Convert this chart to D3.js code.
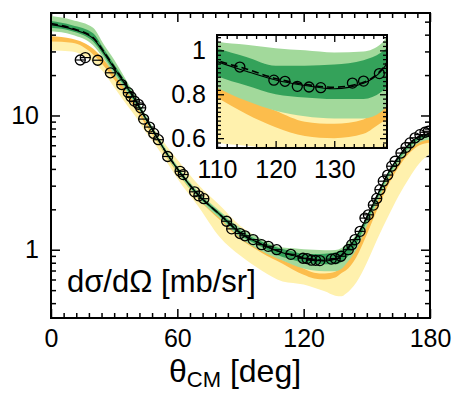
<!DOCTYPE html>
<html>
<head>
<meta charset="utf-8">
<script src="https://cdn.jsdelivr.net/npm/d3@7"></script>
<style>
body { margin: 0; background: #fff; }
svg { font-family: "Liberation Sans", Arial, Helvetica, sans-serif; }
</style>
</head>
<body>
<div id="chart"></div>
<script>
/* theory grid, angles in deg */
const grid   = [0, 10, 20, 25, 30, 35, 40, 45, 50, 55, 60, 70, 80, 90, 100, 110, 115, 120, 125, 130, 135, 138, 140, 145, 150, 155, 160, 165, 170, 175, 180];
const solid  = [47.5, 44, 37.5, 29.5, 22.5, 17.3, 13.0, 9.5, 7.0, 5.2, 4.0, 2.55, 1.84, 1.33, 1.1, 0.95, 0.905, 0.865, 0.84, 0.825, 0.85, 0.905, 0.98, 1.24, 1.75, 2.55, 3.7, 4.9, 6.1, 7.0, 7.3];
const dashed = [48.5, 44.5, 38, 30, 23, 17.6, 13.1, 9.55, 7.05, 5.2, 4.02, 2.56, 1.84, 1.33, 1.1, 0.955, 0.915, 0.872, 0.845, 0.832, 0.855, 0.91, 0.985, 1.24, 1.75, 2.55, 3.7, 4.9, 6.1, 7.0, 7.35];

/* bands: light green, dark green, orange, yellow */
const lgLo = [42.5, 40, 33.3, 26.5, 20.2, 15.8, 12.1, 9.0, 6.65, 4.95, 3.8, 2.4, 1.72, 1.22, 0.98, 0.83, 0.77, 0.725, 0.7, 0.69, 0.69, 0.72, 0.78, 1.0, 1.5, 2.25, 3.3, 4.4, 5.5, 6.3, 6.6];
const lgHi = [55, 51.5, 45, 34, 26, 19.2, 14.1, 10.1, 7.4, 5.5, 4.22, 2.7, 1.95, 1.45, 1.2, 1.04, 1.025, 1.01, 1.0, 0.99, 0.995, 1.03, 1.1, 1.3, 1.8, 2.6, 3.75, 4.95, 6.15, 7.05, 7.35];
const dgLo = [45, 42.5, 35.5, 28, 21.3, 16.5, 12.5, 9.25, 6.85, 5.1, 3.9, 2.48, 1.78, 1.28, 1.05, 0.883, 0.84, 0.8, 0.785, 0.778, 0.778, 0.81, 0.86, 1.1, 1.62, 2.4, 3.5, 4.65, 5.8, 6.65, 6.95];
const dgHi = [50.5, 47, 41, 31.5, 24, 18.3, 13.6, 9.8, 7.2, 5.35, 4.12, 2.63, 1.9, 1.39, 1.15, 1.011, 0.97, 0.93, 0.93, 0.935, 0.955, 0.99, 1.04, 1.27, 1.77, 2.57, 3.72, 4.92, 6.1, 7.0, 7.3];
const orLo = [35.5, 34.8, 28.5, 23.5, 18.5, 14.5, 11.3, 8.5, 6.5, 4.85, 3.75, 2.38, 1.68, 1.2, 0.95, 0.785, 0.71, 0.65, 0.61, 0.6, 0.62, 0.67, 0.7, 0.88, 1.3, 2.0, 3.0, 4.1, 5.2, 6.0, 6.3];
const orHi = [39, 37.3, 31.4, 26, 20.8, 16.3, 12.5, 9.2, 6.95, 5.15, 3.97, 2.52, 1.8, 1.3, 1.03, 0.835, 0.78, 0.725, 0.675, 0.665, 0.685, 0.77, 0.83, 1.1, 1.65, 2.45, 3.55, 4.7, 5.9, 6.8, 7.1];
const yeLo = [30.5, 30, 25, 21, 16.2, 12.6, 9.9, 7.5, 5.9, 4.5, 3.4, 2.1, 1.25, 0.9, 0.7, 0.58, 0.565, 0.55, 0.52, 0.49, 0.455, 0.45, 0.47, 0.57, 0.8, 1.2, 1.75, 2.5, 3.4, 4.4, 5.2];
const yeHi = [37, 36, 31.5, 26.5, 20.5, 16, 12.5, 9.4, 7.6, 5.9, 4.7, 3.05, 2.15, 1.5, 1.18, 0.88, 0.82, 0.76, 0.73, 0.72, 0.73, 0.79, 0.85, 1.12, 1.65, 2.45, 3.55, 4.75, 5.95, 6.9, 7.3];

/* measured points */
const expAngle = [13.9, 16.3, 22.2, 28.2, 33.6, 36.7, 38.0, 39.6, 41.5, 42.6, 44.0, 46.8, 48.8, 51.0, 55.4, 61.3, 62.8, 68.2, 70.2, 72.6,
                  83.4, 85.8, 89.8, 92.1, 96.0, 100.0, 103.2, 107.2, 113.9, 119.7, 121.6, 123.7, 125.7, 127.7, 133.1, 135.0, 137.7,
                  141.2, 142.8, 144.4, 146.8, 149.1, 150.7, 153.1, 154.7, 156.2, 157.8, 159.9, 161.8, 163.4, 166.2, 168.6, 170.5, 172.9, 175.2, 177.6, 179.2];
const expValue = [25.9, 27, 25.8, 20.8, 17, 14.8, 13.8, 12.8, 12.1, 11.4, 9.4, 8.2, 7.35, 6.6, 4.95, 3.84, 3.63, 2.7, 2.52, 2.4,
                  1.63, 1.43, 1.32, 1.27, 1.19, 1.09, 1.06, 1.0, 0.924, 0.864, 0.859, 0.836, 0.833, 0.83, 0.851, 0.86, 0.894,
                  1.0, 1.09, 1.19, 1.37, 1.72, 1.82, 2.15, 2.41, 2.8, 3.24, 3.6, 4.19, 4.56, 5.25, 5.79, 6.25, 6.82, 7.2, 7.5, 7.63];

/* tick labels */
const xTicks = [0, 60, 120, 180];
const yTicks = [1, 10];
const yMinor = [0.4, 0.5, 0.6, 0.7, 0.8, 0.9, 2, 3, 4, 5, 6, 7, 8, 9, 20, 30, 40, 50];
const insetXTicks = [110, 120, 130];
const insetYTicks = [0.6, 0.8, 1];

const colors = { ye: "#fff1ad", or: "#fcbd4c", lg: "#a2d99b", dg: "#34a25a" };

const svg = d3.select("#chart").append("svg")
    .attr("width", 454).attr("height", 394);

/* scales */
const x = d3.scaleLinear().domain([0, 180]).range([51, 430]);
const y = d3.scaleLog().domain([0.31, 58]).range([318, 13]);
const xi = d3.scaleLinear().domain([110, 139]).range([217, 387]);
const yi = d3.scaleLinear().domain([0.555, 1.07]).range([148, 35]);

const defs = svg.append("defs");
defs.append("clipPath").attr("id", "clipMain").append("rect")
    .attr("x", 51).attr("y", 13).attr("width", 379).attr("height", 305);
defs.append("clipPath").attr("id", "clipInset").append("rect")
    .attr("x", 217).attr("y", 35).attr("width", 170).attr("height", 113);

function tickAxis(g, axis, w) {
    g.call(axis);
    g.select(".domain").remove();
    g.selectAll(".tick line").attr("stroke-width", w);
    g.selectAll(".tick text").attr("font-size", 25).attr("fill", "#000");
}

/* ---- main panel ---- */
const xMinor = d3.range(0, 181, 6).filter(d => d % 60 !== 0);
const noLab = () => "";
tickAxis(svg.append("g").attr("transform", "translate(0,318)"),
    d3.axisBottom(x).tickValues(xMinor).tickSize(-5).tickFormat(noLab), 1.5);
tickAxis(svg.append("g").attr("transform", "translate(0,318)"),
    d3.axisBottom(x).tickValues(xTicks).tickSize(-9).tickPadding(11).tickFormat(d3.format("d")), 1.5);
tickAxis(svg.append("g").attr("transform", "translate(0,13)"),
    d3.axisTop(x).tickValues(xMinor).tickSize(-5).tickFormat(noLab), 1.5);
tickAxis(svg.append("g").attr("transform", "translate(0,13)"),
    d3.axisTop(x).tickValues(xTicks).tickSize(-9).tickFormat(noLab), 1.5);
tickAxis(svg.append("g").attr("transform", "translate(51,0)"),
    d3.axisLeft(y).tickValues(yMinor).tickSize(-5).tickFormat(noLab), 1.5);
tickAxis(svg.append("g").attr("transform", "translate(51,0)"),
    d3.axisLeft(y).tickValues(yTicks).tickSize(-9).tickPadding(12).tickFormat(d3.format("d")), 1.5);
tickAxis(svg.append("g").attr("transform", "translate(430,0)"),
    d3.axisRight(y).tickValues(yMinor).tickSize(-5).tickFormat(noLab), 1.5);
tickAxis(svg.append("g").attr("transform", "translate(430,0)"),
    d3.axisRight(y).tickValues(yTicks).tickSize(-9).tickFormat(noLab), 1.5);

function drawTheory(layer, sx, sy) {
    const bands = [[yeLo, yeHi, colors.ye], [orLo, orHi, colors.or], [lgLo, lgHi, colors.lg], [dgLo, dgHi, colors.dg]];
    bands.forEach(([lo, hi, c]) => {
        const area = d3.area()
            .x((d, i) => sx(grid[i]))
            .y0((d, i) => sy(lo[i]))
            .y1((d, i) => sy(hi[i]))
            .curve(d3.curveMonotoneX);
        layer.append("path").datum(grid).attr("d", area).attr("fill", c);
    });
    const lineOf = arr => d3.line()
        .x((d, i) => sx(grid[i]))
        .y((d, i) => sy(arr[i]))
        .curve(d3.curveMonotoneX);
    layer.append("path").datum(grid).attr("d", lineOf(solid))
        .attr("fill", "none").attr("stroke", "#000").attr("stroke-width", 1.1);
    layer.append("path").datum(grid).attr("d", lineOf(dashed))
        .attr("fill", "none").attr("stroke", "#000").attr("stroke-width", 1.6)
        .attr("stroke-dasharray", "7,4");
}

function drawPoints(layer, sx, sy, bar) {
    const pts = layer.selectAll("g.pt")
        .data(expAngle.map((a, i) => ({ a: a, v: expValue[i] })))
        .enter().append("g").attr("class", "pt");
    if (bar) {
        pts.append("line")
            .attr("x1", d => sx(d.a - 2.4)).attr("x2", d => sx(d.a + 2.4))
            .attr("y1", d => sy(d.v)).attr("y2", d => sy(d.v))
            .attr("stroke", "#000").attr("stroke-width", 1.2);
    }
    pts.append("circle")
        .attr("cx", d => sx(d.a)).attr("cy", d => sy(d.v)).attr("r", 5)
        .attr("fill", "none").attr("stroke", "#000").attr("stroke-width", 1.3);
}

const mainLayer = svg.append("g").attr("clip-path", "url(#clipMain)");
drawTheory(mainLayer, x, y);
drawPoints(mainLayer, x, y, true);

svg.append("rect").attr("x", 51).attr("y", 13).attr("width", 379).attr("height", 305)
    .attr("fill", "none").attr("stroke", "#000").attr("stroke-width", 2);

svg.append("text").attr("x", 67).attr("y", 292).attr("font-size", 31)
    .text("dσ/dΩ [mb/sr]");

const xt = svg.append("text").attr("x", 169).attr("y", 382).attr("font-size", 32);
xt.append("tspan").text("θ");
xt.append("tspan").attr("font-size", 22).attr("dy", 5).text("CM");
xt.append("tspan").attr("dy", -5).text(" [deg]");

/* ---- inset ---- */
svg.append("rect").attr("x", 217).attr("y", 35).attr("width", 170).attr("height", 113).attr("fill", "#fff");
const insetLayer = svg.append("g").attr("clip-path", "url(#clipInset)");
drawTheory(insetLayer, xi, yi);
drawPoints(insetLayer, xi, yi, false);

const xiMinor = d3.range(0, 18).map(k => 110 + k * 10 / 6).filter((d, k) => k % 6 !== 0 && d < 139);
const yiMinor = d3.range(28, 54).map(k => k / 50).filter(d => Math.round(d * 50) % 10 !== 0);
tickAxis(svg.append("g").attr("transform", "translate(0,148)"),
    d3.axisBottom(xi).tickValues(xiMinor).tickSize(-4).tickFormat(noLab), 1.3);
tickAxis(svg.append("g").attr("transform", "translate(0,148)"),
    d3.axisBottom(xi).tickValues(insetXTicks).tickSize(-7).tickPadding(12).tickFormat(d3.format("d")), 1.3);
tickAxis(svg.append("g").attr("transform", "translate(0,35)"),
    d3.axisTop(xi).tickValues(xiMinor).tickSize(-4).tickFormat(noLab), 1.3);
tickAxis(svg.append("g").attr("transform", "translate(0,35)"),
    d3.axisTop(xi).tickValues(insetXTicks).tickSize(-7).tickFormat(noLab), 1.3);
tickAxis(svg.append("g").attr("transform", "translate(217,0)"),
    d3.axisLeft(yi).tickValues(yiMinor).tickSize(-4).tickFormat(noLab), 1.3);
tickAxis(svg.append("g").attr("transform", "translate(217,0)"),
    d3.axisLeft(yi).tickValues(insetYTicks).tickSize(-7).tickPadding(11).tickFormat(d3.format("")), 1.3);
tickAxis(svg.append("g").attr("transform", "translate(387,0)"),
    d3.axisRight(yi).tickValues(yiMinor).tickSize(-4).tickFormat(noLab), 1.3);
tickAxis(svg.append("g").attr("transform", "translate(387,0)"),
    d3.axisRight(yi).tickValues(insetYTicks).tickSize(-7).tickFormat(noLab), 1.3);

svg.append("rect").attr("x", 217).attr("y", 35).attr("width", 170).attr("height", 113)
    .attr("fill", "none").attr("stroke", "#000").attr("stroke-width", 2);
</script>
</body>
</html>
